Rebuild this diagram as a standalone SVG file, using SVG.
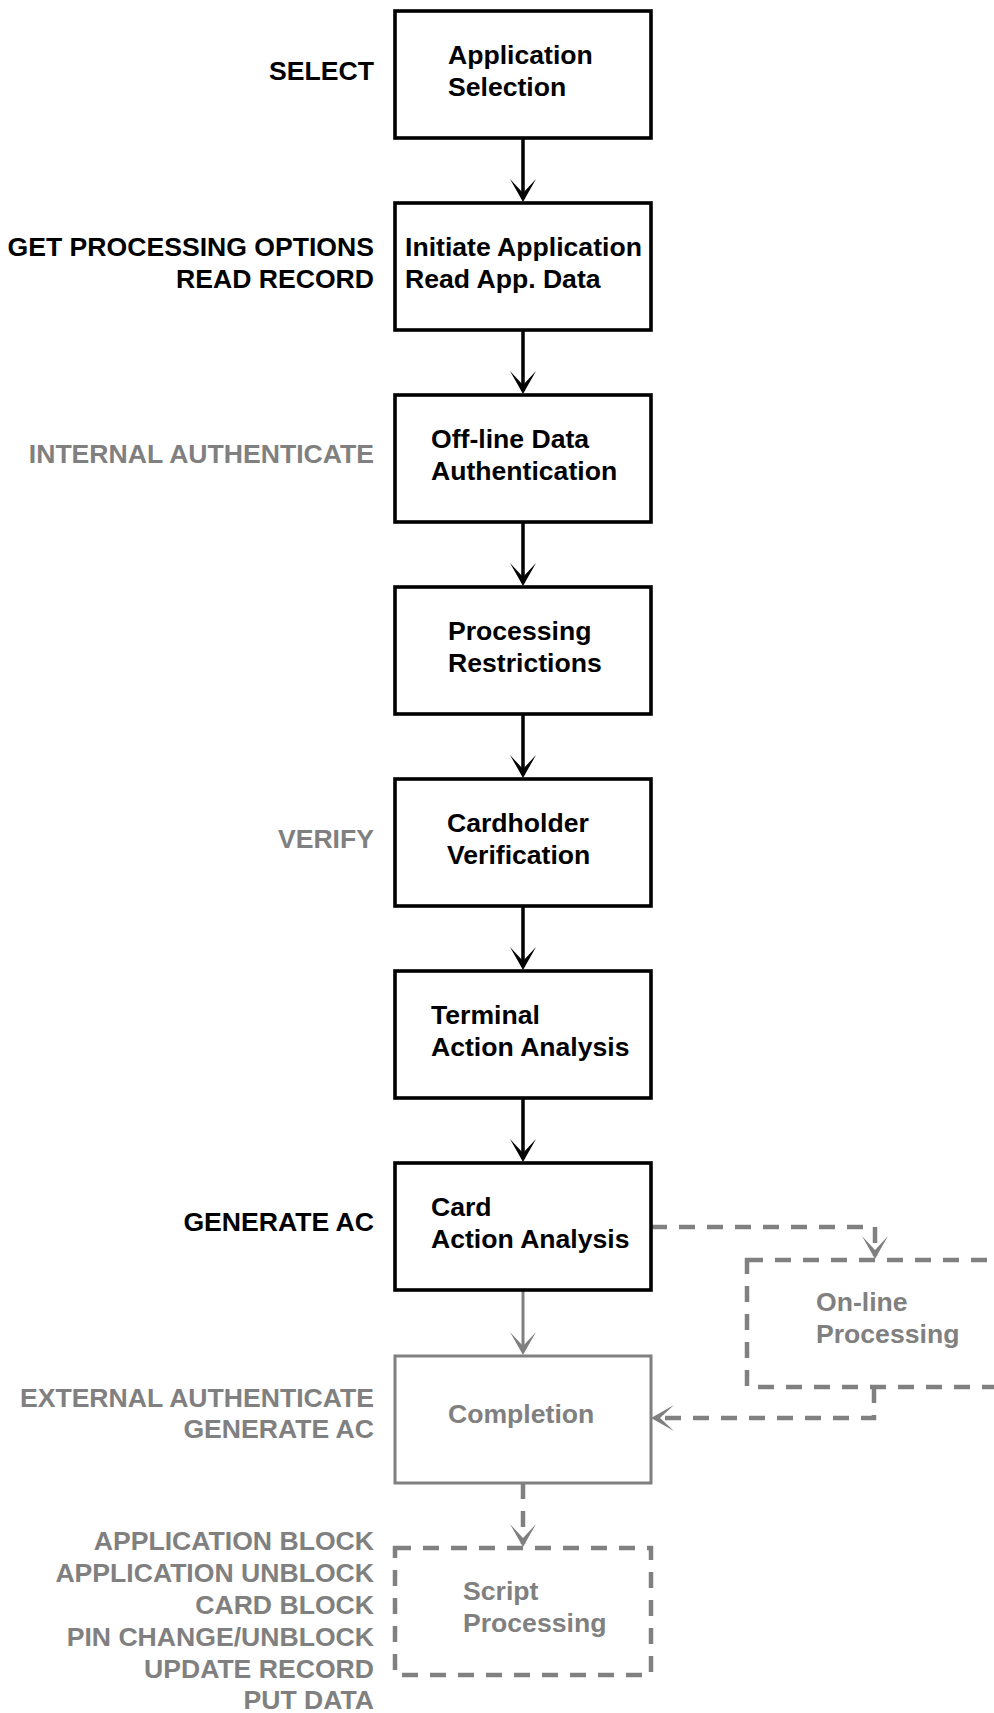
<svg xmlns="http://www.w3.org/2000/svg" width="994" height="1713" viewBox="0 0 994 1713">
<style>
text{font-family:"Liberation Sans",Arial,sans-serif;font-weight:bold;font-size:26.6px;fill:#000}
.g{fill:#808080}
.lbl{text-anchor:end}
.box{fill:#fff;stroke:#000;stroke-width:3.6}
.gbox{fill:#fff;stroke:#808080;stroke-width:3}
.dbox{fill:none;stroke:#808080;stroke-width:4.5;stroke-dasharray:16 12}
.c{fill:none;stroke:#000;stroke-width:3.5}
.cg{fill:none;stroke:#808080;stroke-width:3}
.cd{fill:none;stroke:#808080;stroke-width:4.5;stroke-dasharray:16 12}
</style>
<defs>
<marker id="ah" markerUnits="userSpaceOnUse" markerWidth="26" markerHeight="28" refX="20" refY="13" orient="auto">
<path d="M0,0 L23,13 L0,26 L14,13 Z" fill="#000"/>
</marker>
<marker id="ahg" markerUnits="userSpaceOnUse" markerWidth="26" markerHeight="28" refX="20" refY="13" orient="auto">
<path d="M0,0 L23,13 L0,26 L14,13 Z" fill="#808080"/>
</marker>
</defs>
<rect width="994" height="1713" fill="#fff"/>
<g id="connectors">
<path class="c" d="M523,138 V199" marker-end="url(#ah)"/>
<path class="c" d="M523,330 V391" marker-end="url(#ah)"/>
<path class="c" d="M523,522 V583" marker-end="url(#ah)"/>
<path class="c" d="M523,714 V775" marker-end="url(#ah)"/>
<path class="c" d="M523,906 V967" marker-end="url(#ah)"/>
<path class="c" d="M523,1098 V1159" marker-end="url(#ah)"/>
<path class="cg" d="M523,1291 V1352" marker-end="url(#ahg)"/>
<path class="cd" d="M651,1227 H875 V1256" marker-end="url(#ahg)"/>
<path class="cd" d="M874,1387 V1418 H654" marker-end="url(#ahg)"/>
<path class="cd" d="M523,1483 V1544" marker-end="url(#ahg)"/>
</g>
<g id="app-selection">
<rect class="box" x="395" y="11" width="256" height="127"/>
<text x="448" y="63.5">Application</text>
<text x="448" y="95.5">Selection</text>
<text class="lbl" x="374" y="79.5">SELECT</text>
</g>
<g id="initiate-app">
<rect class="box" x="395" y="203" width="256" height="127"/>
<text x="405" y="255.5">Initiate Application</text>
<text x="405" y="287.5">Read App. Data</text>
<text class="lbl" x="374" y="255.5">GET PROCESSING OPTIONS</text>
<text class="lbl" x="374" y="287.5">READ RECORD</text>
</g>
<g id="offline-auth">
<rect class="box" x="395" y="395" width="256" height="127"/>
<text x="431" y="447.5">Off-line Data</text>
<text x="431" y="479.5">Authentication</text>
<text class="lbl g" x="374" y="463">INTERNAL AUTHENTICATE</text>
</g>
<g id="processing-restrictions">
<rect class="box" x="395" y="587" width="256" height="127"/>
<text x="448" y="639.5">Processing</text>
<text x="448" y="671.5">Restrictions</text>
</g>
<g id="cardholder-verification">
<rect class="box" x="395" y="779" width="256" height="127"/>
<text x="447" y="831.5">Cardholder</text>
<text x="447" y="863.5">Verification</text>
<text class="lbl g" x="374" y="847.5">VERIFY</text>
</g>
<g id="terminal-action">
<rect class="box" x="395" y="971" width="256" height="127"/>
<text x="431" y="1023.5">Terminal</text>
<text x="431" y="1055.5">Action Analysis</text>
</g>
<g id="card-action">
<rect class="box" x="395" y="1163" width="256" height="127"/>
<text x="431" y="1215.5">Card</text>
<text x="431" y="1247.5">Action Analysis</text>
<text class="lbl" x="374" y="1231">GENERATE AC</text>
</g>
<g id="online-processing">
<rect class="dbox" x="747" y="1260" width="300" height="127"/>
<text class="g" x="816" y="1311">On-line</text>
<text class="g" x="816" y="1343">Processing</text>
</g>
<g id="completion">
<rect class="gbox" x="395" y="1356" width="256" height="127"/>
<text class="g" x="448" y="1423">Completion</text>
<text class="lbl g" x="374" y="1406.5">EXTERNAL AUTHENTICATE</text>
<text class="lbl g" x="374" y="1438">GENERATE AC</text>
</g>
<g id="script-processing">
<rect class="dbox" x="395" y="1548" width="256" height="127"/>
<text class="g" x="463" y="1599.5">Script</text>
<text class="g" x="463" y="1631.5">Processing</text>
<text class="lbl g" x="374" y="1550">APPLICATION BLOCK</text>
<text class="lbl g" x="374" y="1582">APPLICATION UNBLOCK</text>
<text class="lbl g" x="374" y="1614">CARD BLOCK</text>
<text class="lbl g" x="374" y="1645.5">PIN CHANGE/UNBLOCK</text>
<text class="lbl g" x="374" y="1677.5">UPDATE RECORD</text>
<text class="lbl g" x="374" y="1709">PUT DATA</text>
</g>
</svg>
